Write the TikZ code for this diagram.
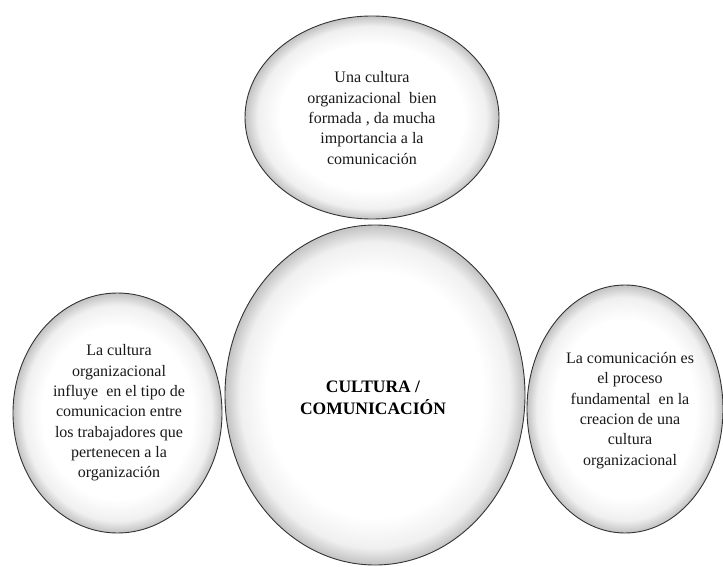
\documentclass[tikz,border=0pt]{standalone}
\usepackage{fontspec}
\setmainfont{Liberation Serif}
\usetikzlibrary{shapes.geometric}
\pgfdeclareradialshading{bubble}{\pgfpoint{0bp}{0bp}}{color(0bp)=(white); color(18bp)=(white); color(22.5bp)=(black!6); color(25bp)=(black!24); color(50bp)=(black!24)}
\tikzset{
  bubble/.style={ellipse, draw=black!80, line width=0.9pt, shading=bubble, inner sep=0pt},
  smalltext/.style={align=center, text=black!90, font=\fontsize{16}{20.3}\selectfont},
  bigtext/.style={align=center, text=black, font=\fontsize{17.5}{22}\selectfont\bfseries}
}
\begin{document}
\begin{tikzpicture}[x=1pt,y=-1pt]
  \useasboundingbox (0,0) rectangle (723,567);
  \fill[white] (0,0) rectangle (723,567);
  \node[bubble, minimum width=254pt, minimum height=203pt] (top) at (372,117.5) {};
  \node[bubble, minimum width=300pt, minimum height=340pt] (center) at (375,395) {};
  \node[bubble, minimum width=209pt, minimum height=240pt] (left) at (117.5,413) {};
  \node[bubble, minimum width=196pt, minimum height=248pt] (right) at (625,409) {};
  \node[smalltext] (toptext) at (372,118)
    {Una cultura\\organizacional\ \ bien\\formada , da mucha\\importancia a la\\comunicación};
  \node[smalltext] (lefttext) at (119,413)
    {La cultura\\organizacional\\influye\ \ en el tipo de\\comunicacion entre\\los trabajadores que\\pertenecen a la\\organización};
  \node[smalltext] (righttext) at (630,410.5)
    {La comunicación es\\el proceso\\fundamental\ \ en la\\creacion de una\\cultura\\organizacional};
  \node[bigtext] (centertext) at (373,398)
    {CULTURA /\\COMUNICACIÓN};
\end{tikzpicture}
\end{document}
